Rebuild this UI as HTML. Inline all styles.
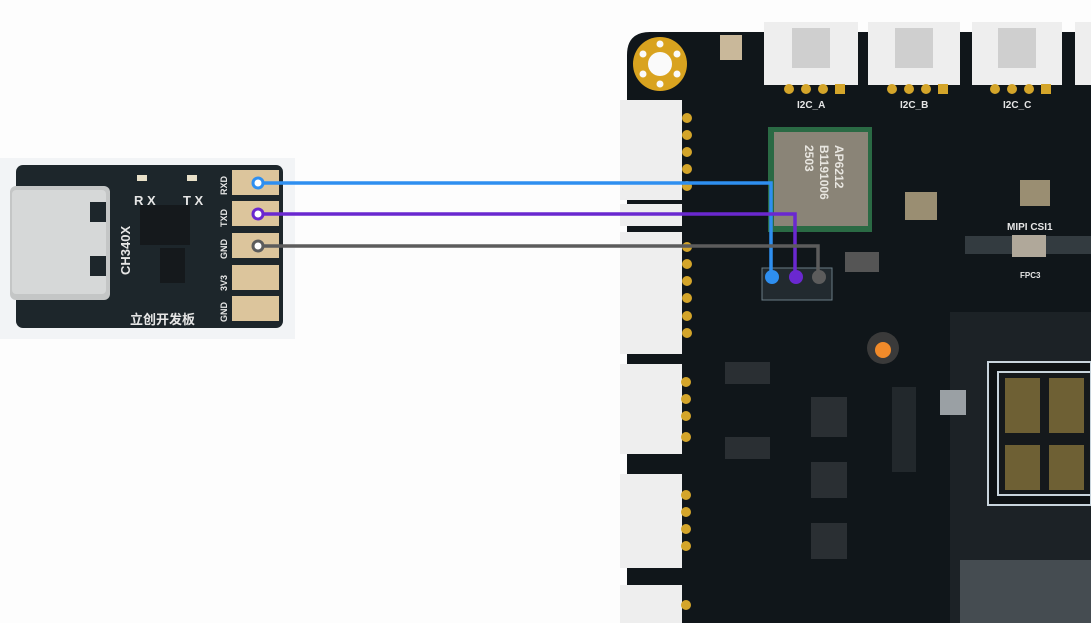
<!DOCTYPE html>
<html><head><meta charset="utf-8"><style>
html,body{margin:0;padding:0;background:#fff;}
svg{display:block;}
text{font-family:"Liberation Sans","Noto Sans CJK SC",sans-serif;font-weight:bold;}
</style></head><body>
<svg width="1091" height="623" viewBox="0 0 1091 623" xmlns="http://www.w3.org/2000/svg">
<rect width="1091" height="623" fill="#fdfdfd"/>
<!-- USB module -->
<rect x="0" y="158" width="295" height="181" fill="#f2f4f6"/>
<rect x="16" y="165" width="267" height="163" rx="7" fill="#1d262b"/>
<rect x="10" y="186" width="100" height="114" rx="6" fill="#c4c6c6"/>
<rect x="12" y="190" width="94" height="104" rx="4" fill="#d6d8d8"/>
<rect x="90" y="202" width="16" height="20" fill="#1d262b"/>
<rect x="90" y="256" width="16" height="20" fill="#1d262b"/>
<rect x="140" y="205" width="50" height="40" fill="#15191c"/>
<rect x="160" y="248" width="25" height="35" fill="#15191c"/>
<rect x="137" y="175" width="10" height="6" fill="#e8e0c8"/>
<rect x="187" y="175" width="10" height="6" fill="#e8e0c8"/>
<text x="134" y="205" fill="#e6e6e6" font-size="13">R X</text>
<text x="183" y="205" fill="#e6e6e6" font-size="13">T X</text>
<text x="0" y="0" fill="#e6e6e6" font-size="13" transform="translate(130,275) rotate(-90)">CH340X</text>
<text x="130" y="324" fill="#e6e6e6" font-size="13">立创开发板</text>
<g fill="#e6e6e6" font-size="9" transform="translate(227,0)">
<text transform="translate(0,195) rotate(-90)">RXD</text>
<text transform="translate(0,227) rotate(-90)">TXD</text>
<text transform="translate(0,259) rotate(-90)">GND</text>
<text transform="translate(0,291) rotate(-90)">3V3</text>
<text transform="translate(0,322) rotate(-90)">GND</text>
</g>
<g fill="#dcc59c">
<rect x="232" y="170" width="47" height="25"/>
<rect x="232" y="201" width="47" height="25"/>
<rect x="232" y="233" width="47" height="25"/>
<rect x="232" y="265" width="47" height="25"/>
<rect x="232" y="296" width="47" height="25"/>
</g>
<!-- Main board -->
<path d="M650 32 H1091 V623 H627 V55 Q627 32 650 32 Z" fill="#10161a"/>
<!-- top connectors -->
<g fill="#eeeeee">
<rect x="764" y="22" width="94" height="63"/>
<rect x="868" y="22" width="92" height="63"/>
<rect x="972" y="22" width="90" height="63"/>
<rect x="1075" y="22" width="16" height="63"/>
</g>
<g fill="#cfcfcf">
<rect x="792" y="28" width="38" height="40"/>
<rect x="895" y="28" width="38" height="40"/>
<rect x="998" y="28" width="38" height="40"/>
</g>
<g fill="#d4a52a">
<circle cx="789" cy="89" r="5"/><circle cx="806" cy="89" r="5"/><circle cx="823" cy="89" r="5"/><rect x="835" y="84" width="10" height="10"/>
<circle cx="892" cy="89" r="5"/><circle cx="909" cy="89" r="5"/><circle cx="926" cy="89" r="5"/><rect x="938" y="84" width="10" height="10"/>
<circle cx="995" cy="89" r="5"/><circle cx="1012" cy="89" r="5"/><circle cx="1029" cy="89" r="5"/><rect x="1041" y="84" width="10" height="10"/>
</g>
<g fill="#e6e6e6" font-size="10">
<text x="797" y="108">I2C_A</text><text x="900" y="108">I2C_B</text><text x="1003" y="108">I2C_C</text>
<text x="1007" y="230">MIPI CSI1</text><text x="1020" y="278" font-size="8">FPC3</text>
</g>
<!-- mounting hole -->
<circle cx="660" cy="64" r="27" fill="#d9a31f"/>
<circle cx="660" cy="64" r="12" fill="#fafafa"/>
<g fill="#fafafa"><circle cx="660" cy="44" r="3.5"/><circle cx="660" cy="84" r="3.5"/><circle cx="643" cy="54" r="3.5"/><circle cx="677" cy="54" r="3.5"/><circle cx="643" cy="74" r="3.5"/><circle cx="677" cy="74" r="3.5"/></g>
<rect x="720" y="35" width="22" height="25" fill="#c9b89a"/>
<!-- left connectors -->
<g fill="#eeeeee">
<rect x="620" y="100" width="62" height="100"/>
<rect x="620" y="204" width="62" height="22"/>
<rect x="620" y="232" width="62" height="122"/>
<rect x="620" y="364" width="62" height="90"/>
<rect x="620" y="474" width="62" height="94"/>
<rect x="620" y="585" width="62" height="38"/>
</g>
<g fill="#d4a52a">
<circle cx="687" cy="118" r="5"/><circle cx="687" cy="135" r="5"/><circle cx="687" cy="152" r="5"/><circle cx="687" cy="169" r="5"/><circle cx="687" cy="186" r="5"/>
<circle cx="687" cy="247" r="5"/><circle cx="687" cy="264" r="5"/><circle cx="687" cy="281" r="5"/><circle cx="687" cy="298" r="5"/><circle cx="687" cy="316" r="5"/><circle cx="687" cy="333" r="5"/>
<circle cx="686" cy="382" r="5"/><circle cx="686" cy="399" r="5"/><circle cx="686" cy="416" r="5"/><circle cx="686" cy="437" r="5"/>
<circle cx="686" cy="495" r="5"/><circle cx="686" cy="512" r="5"/><circle cx="686" cy="529" r="5"/><circle cx="686" cy="546" r="5"/>
<circle cx="686" cy="605" r="5"/>
</g>
<!-- AP6212 -->
<rect x="768" y="127" width="104" height="105" fill="#2a6a44"/>
<rect x="774" y="132" width="94" height="94" fill="#8a8477"/>
<g fill="#e8e6e0" font-size="12" font-weight="normal">
<text transform="translate(835,145) rotate(90)">AP6212</text>
<text transform="translate(820,145) rotate(90)">B1191006</text>
<text transform="translate(805,145) rotate(90)">2503</text>
</g>
<!-- header -->
<rect x="762" y="268" width="70" height="32" fill="#222a2f" stroke="#6a7c86" stroke-width="1"/>
<!-- misc chips -->
<rect x="811" y="397" width="36" height="40" fill="#2a2f33"/>
<rect x="811" y="462" width="36" height="36" fill="#2a2f33"/>
<rect x="811" y="523" width="36" height="36" fill="#2a2f33"/>
<rect x="725" y="362" width="45" height="22" fill="#2a2f33"/>
<rect x="725" y="437" width="45" height="22" fill="#2a2f33"/>
<rect x="892" y="387" width="24" height="85" fill="#22282c"/>
<rect x="905" y="192" width="32" height="28" fill="#9a8e72"/>
<rect x="1020" y="180" width="30" height="26" fill="#9a8e72"/>
<rect x="965" y="236" width="126" height="18" fill="#333b40"/>
<rect x="1012" y="235" width="34" height="22" fill="#b0a89a"/>
<rect x="845" y="252" width="34" height="20" fill="#555"/>
<circle cx="883" cy="348" r="16" fill="#3a3a3a"/><circle cx="883" cy="350" r="8" fill="#f08a2a"/>
<!-- socket -->
<rect x="950" y="312" width="141" height="311" fill="#1c2226"/>
<rect x="988" y="362" width="103" height="143" fill="#0e1214" stroke="#c8d4dc" stroke-width="2"/>
<rect x="998" y="372" width="93" height="123" fill="#15191c" stroke="#c8d4dc" stroke-width="2"/>
<rect x="1005" y="378" width="35" height="55" fill="#6e6034"/><rect x="1049" y="378" width="35" height="55" fill="#6e6034"/>
<rect x="1005" y="445" width="35" height="45" fill="#6e6034"/><rect x="1049" y="445" width="35" height="45" fill="#6e6034"/>
<rect x="960" y="560" width="131" height="63" fill="#454c51"/>
<rect x="940" y="390" width="26" height="25" fill="#9aa0a4"/>
<!-- wires -->
<g fill="none" stroke-width="3.5">
<path d="M258 183 H771 V277" stroke="#2e8ff0"/>
<path d="M258 214 H795 V277" stroke="#6a28d0"/>
<path d="M258 246 H818 V277" stroke="#5c5c5c"/>
</g>
<g stroke-width="3" fill="#fff">
<circle cx="258" cy="183" r="5" stroke="#2e8ff0"/>
<circle cx="258" cy="214" r="5" stroke="#6a28d0"/>
<circle cx="258" cy="246" r="5" stroke="#5c5c5c"/>
</g>
<circle cx="772" cy="277" r="7" fill="#2e8ff0"/>
<circle cx="796" cy="277" r="7" fill="#6a28d0"/>
<circle cx="819" cy="277" r="7" fill="#5c5c5c"/>
</svg>
</body></html>
